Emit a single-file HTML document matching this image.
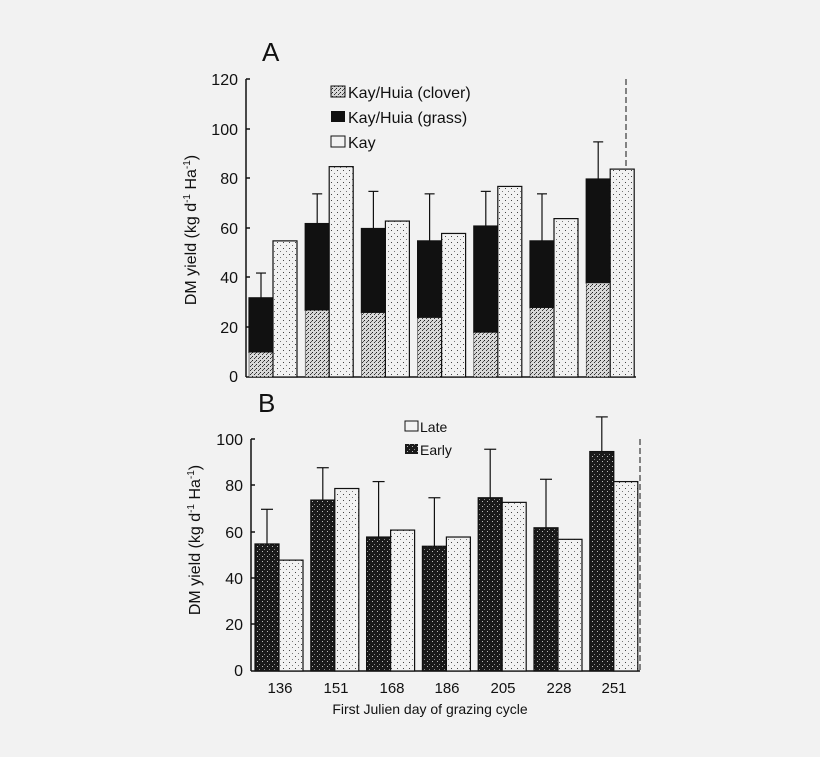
<!DOCTYPE html>
<html><head><meta charset="utf-8"><style>
html,body{margin:0;padding:0;background:#f2f2f2;}
svg{display:block;font-family:"Liberation Sans",sans-serif;}
</style></head><body>
<svg width="820" height="757" viewBox="0 0 820 757">
<defs>
<pattern id="dots" width="6" height="6" patternUnits="userSpaceOnUse">
<rect width="6" height="6" fill="#f2f2f2"/><rect x="1" y="2" width="1" height="1" fill="#444"/><rect x="4" y="5" width="1" height="1" fill="#777"/>
</pattern>
<pattern id="clov" width="4" height="4" patternUnits="userSpaceOnUse">
<rect width="4" height="4" fill="#d8d8d8"/><rect x="0" y="0" width="1" height="1" fill="#222"/><rect x="2" y="2" width="1" height="1" fill="#333"/><rect x="3" y="1" width="1" height="1" fill="#555"/>
</pattern>
<pattern id="dark" width="5" height="5" patternUnits="userSpaceOnUse">
<rect width="5" height="5" fill="#1a1a1a"/><rect x="2" y="1" width="1" height="1" fill="#bbb"/><rect x="4" y="4" width="1" height="1" fill="#888"/>
</pattern>
</defs>
<g fill="none" stroke="#111" stroke-width="1.5">
<!-- A axes -->
<line x1="246" y1="79" x2="246" y2="377"/>
<line x1="246" y1="377" x2="636" y2="377"/>
<line x1="626" y1="79" x2="626" y2="377" stroke-width="1" stroke-dasharray="6 3"/>
<path d="M246 79h4M246 129h4M246 178h4M246 228h4M246 277h4M246 327h4"/>
<!-- B axes -->
<line x1="251" y1="439" x2="251" y2="671"/>
<line x1="251" y1="671" x2="640" y2="671"/>
<line x1="640" y1="439" x2="640" y2="671" stroke-width="1" stroke-dasharray="6 3"/>
<path d="M251 439h4M251 485h4M251 532h4M251 578h4M251 624h4"/>
</g>
<g font-size="16" fill="#111" text-anchor="end">
<text x="238" y="85">120</text><text x="238" y="135">100</text><text x="238" y="184">80</text>
<text x="238" y="234">60</text><text x="238" y="283">40</text><text x="238" y="333">20</text><text x="238" y="382">0</text>
<text x="243" y="445">100</text><text x="243" y="491">80</text><text x="243" y="538">60</text>
<text x="243" y="584">40</text><text x="243" y="630">20</text><text x="243" y="676">0</text>
</g>
<text x="262" y="61" font-size="26" fill="#111">A</text>
<text x="258" y="412" font-size="26" fill="#111">B</text>
<text transform="translate(196,230) rotate(-90)" font-size="16" text-anchor="middle" fill="#111">DM yield (kg d<tspan font-size="10" dy="-6">-1</tspan><tspan dy="6"> Ha</tspan><tspan font-size="10" dy="-6">-1</tspan><tspan dy="6">)</tspan></text>
<text transform="translate(200,540) rotate(-90)" font-size="16" text-anchor="middle" fill="#111">DM yield (kg d<tspan font-size="10" dy="-6">-1</tspan><tspan dy="6"> Ha</tspan><tspan font-size="10" dy="-6">-1</tspan><tspan dy="6">)</tspan></text>
<!-- legend A -->
<rect x="331" y="86" width="14" height="11" fill="url(#clov)" stroke="#111"/>
<rect x="331" y="111" width="14" height="11" fill="#111"/>
<rect x="331" y="136" width="14" height="11" fill="#f2f2f2" stroke="#111"/>
<g font-size="16" fill="#111"><text x="348" y="98">Kay/Huia (clover)</text><text x="348" y="123">Kay/Huia (grass)</text><text x="348" y="148">Kay</text></g>
<!-- legend B -->
<rect x="405" y="421" width="13" height="10" fill="#f2f2f2" stroke="#111"/>
<rect x="405" y="444" width="13" height="10" fill="url(#dark)"/>
<g font-size="14" fill="#111"><text x="420" y="432">Late</text><text x="420" y="455">Early</text></g>
<g id="A" stroke="#111" stroke-width="1.2"></g>
<g id="B" stroke="#111" stroke-width="1.2"></g>
<g font-size="15" fill="#111" text-anchor="middle">
<text x="280" y="693">136</text><text x="336" y="693">151</text><text x="392" y="693">168</text><text x="447" y="693">186</text><text x="503" y="693">205</text><text x="559" y="693">228</text><text x="614" y="693">251</text>
<text x="430" y="714" font-size="14">First Julien day of grazing cycle</text>
</g>
<script>
(function(){
var ns="http://www.w3.org/2000/svg";
function el(p,t,a){var e=document.createElementNS(ns,t);for(var k in a)e.setAttribute(k,a[k]);p.appendChild(e);return e;}
var A=document.getElementById("A"),B=document.getElementById("B");
var tot=[32,62,60,55,61,55,80],clo=[10,27,26,24,18,28,38],err=[42,74,75,74,75,74,95],kay=[55,85,63,58,77,64,84];
function ya(v){return 377-v*2.475;}
for(var i=0;i<7;i++){var x=249+i*56.2;
el(A,"line",{x1:x+12,y1:ya(err[i]),x2:x+12,y2:ya(tot[i])});
el(A,"line",{x1:x+7,y1:ya(err[i]),x2:x+17,y2:ya(err[i])});
el(A,"rect",{x:x,y:ya(tot[i]),width:24,height:(tot[i]-clo[i])*2.475,fill:"#111"});
el(A,"rect",{x:x,y:ya(clo[i]),width:24,height:clo[i]*2.475,fill:"url(#clov)","stroke-width":0.5});
el(A,"rect",{x:x+24,y:ya(kay[i]),width:24,height:kay[i]*2.475,fill:"url(#dots)"});}
var e=[55,74,58,54,75,62,95],l=[48,79,61,58,73,57,82],eb=[70,88,82,75,96,83,110];
function yb(v){return 671-v*2.31;}
for(var i=0;i<7;i++){var x=255+i*55.8;
el(B,"line",{x1:x+12,y1:yb(eb[i]),x2:x+12,y2:yb(e[i])});
el(B,"line",{x1:x+6,y1:yb(eb[i]),x2:x+18,y2:yb(eb[i])});
el(B,"rect",{x:x,y:yb(e[i]),width:24,height:e[i]*2.31,fill:"url(#dark)"});
el(B,"rect",{x:x+24,y:yb(l[i]),width:24,height:l[i]*2.31,fill:"url(#dots)"});}
})();
</script>
</svg>
</body></html>
